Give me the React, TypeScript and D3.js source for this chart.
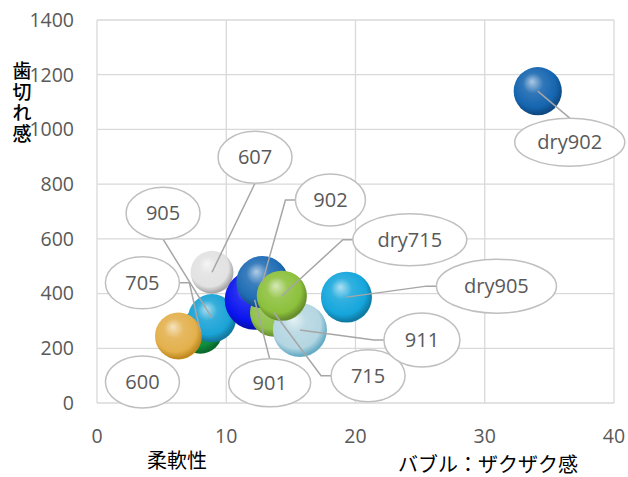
import { useEffect, useRef } from 'react'
import * as d3 from 'd3'

// series: each product is one bubble
const names = ['705', '607', '905', '600', '901', '715', '911', '902', 'dry715', 'dry905', 'dry902']
const softness = [8.0, 8.9, 8.9, 6.3, 12.2, 13.7, 15.7, 12.8, 14.3, 19.3, 34.1]
const crispness = [260, 478, 310, 245, 377, 330, 267, 442, 392, 387, 1140]
const crunch = [4.8, 4.6, 5.8, 5.5, 9.0, 5.8, 7.3, 6.8, 6.3, 6.5, 5.8]

const xTicks = [0, 10, 20, 30, 40]
const yTicks = [0, 200, 400, 600, 800, 1000, 1200, 1400]

const colors = ['#0e8c3c', '#e2e2e2', '#1aa3d6', '#e3b04c', '#0a14ee', '#8fc14a', '#b4d6e2', '#1f6cb4', '#8cc03c', '#15a6dc', '#1565b0']

// label bubble offsets from the point (px) and leader style
const labelLayout: { dx: number; dy: number; rx: number; ry: number; lead: string }[] = [
  { dx: -58, dy: -49, rx: 37, ry: 26, lead: 'right' },
  { dx: 43, dy: -115, rx: 37, ry: 26, lead: 'bottom' },
  { dx: -49, dy: -105, rx: 37, ry: 26, lead: 'bottom' },
  { dx: -36, dy: 46, rx: 37, ry: 26, lead: 'none' },
  { dx: 15, dy: 83, rx: 41, ry: 24, lead: 'top' },
  { dx: 94, dy: 63, rx: 37, ry: 26, lead: 'left' },
  { dx: 122, dy: 10, rx: 38, ry: 27, lead: 'left' },
  { dx: 68, dy: -82, rx: 35, ry: 26, lead: 'left' },
  { dx: 128, dy: -56, rx: 57, ry: 26, lead: 'left' },
  { dx: 150, dy: -11, rx: 60, ry: 27, lead: 'left' },
  { dx: 32, dy: 51, rx: 55, ry: 24, lead: 'top' },
]

export default function App() {
  const svgRef = useRef<SVGSVGElement>(null)

  useEffect(() => {
    const svg = svgRef.current
    if (!svg) return
    d3.select(svg).selectAll('*').remove()

    const W = 628, H = 477
    const root = d3.select(svg).attr('width', W).attr('height', H)
    const numFont = "'Open Sans', 'Noto Sans', sans-serif"
    const cjkFont = "'Noto Sans CJK JP', sans-serif"

    const x = d3.scaleLinear().domain([0, 40]).range([97, 614])
    const y = d3.scaleLinear().domain([0, 1400]).range([403, 20])
    const r = d3.scaleSqrt().domain([0, 9]).range([0, 30])

    const defs = root.append('defs')
    colors.forEach((c, i) => {
      const base = d3.hsl(c)
      const g = defs.append('radialGradient').attr('id', `ball${i}`)
        .attr('cx', '0.45').attr('cy', '0.42').attr('r', '0.6')
        .attr('fx', '0.38').attr('fy', '0.3')
      g.append('stop').attr('offset', '0%').attr('stop-color', d3.interpolateRgb(c, '#fff')(0.65))
      g.append('stop').attr('offset', '35%').attr('stop-color', d3.interpolateRgb(c, '#fff')(0.12))
      g.append('stop').attr('offset', '75%').attr('stop-color', c)
      g.append('stop').attr('offset', '95%').attr('stop-color', base.darker(0.9).formatHex())
      g.append('stop').attr('offset', '100%').attr('stop-color', base.darker(0.6).formatHex())
    })

    // grid
    const grid = root.append('g').attr('stroke', '#d9d9d9').attr('stroke-width', 1.3)
    yTicks.forEach(t => {
      grid.append('line').attr('x1', x(0)).attr('x2', x(40)).attr('y1', y(t)).attr('y2', y(t))
    })
    xTicks.forEach(t => {
      grid.append('line').attr('x1', x(t)).attr('x2', x(t)).attr('y1', y(0)).attr('y2', y(1400))
    })

    // tick labels
    root.append('g').selectAll('text').data(yTicks).join('text')
      .attr('x', 74).attr('y', d => y(d)).attr('dy', '0.35em')
      .attr('text-anchor', 'end').attr('font-family', numFont).attr('font-size', 19.5)
      .attr('fill', '#595959').text(d => d)
    root.append('g').selectAll('text').data(xTicks).join('text')
      .attr('x', d => x(d)).attr('y', 436).attr('dy', '0.35em')
      .attr('text-anchor', 'middle').attr('font-family', numFont).attr('font-size', 19.5)
      .attr('fill', '#595959').text(d => d)

    // bubbles
    const idx = d3.range(names.length)
    root.append('g').selectAll('circle').data(idx).join('circle')
      .attr('cx', i => x(softness[i])).attr('cy', i => y(crispness[i]))
      .attr('r', i => r(crunch[i]))
      .attr('fill', i => `url(#ball${i})`)

    // leader lines
    const leaders = root.append('g').attr('stroke', '#a6a6a6').attr('stroke-width', 1.5).attr('fill', 'none')
    idx.forEach(i => {
      const L = labelLayout[i]
      if (L.lead === 'none') return
      const px = x(softness[i]), py = y(crispness[i])
      const ex = px + L.dx, ey = py + L.dy
      let pts: [number, number][] = []
      if (L.lead === 'left') pts = [[px, py], [ex - L.rx - 10, ey], [ex - L.rx, ey]]
      else if (L.lead === 'right') pts = [[px, py], [ex + L.rx + 10, ey], [ex + L.rx, ey]]
      else if (L.lead === 'bottom') pts = [[px, py], [ex, ey + L.ry]]
      else pts = [[px, py], [ex, ey - L.ry]]
      leaders.append('path').attr('d', d3.line()(pts))
    })

    // data labels
    const lab = root.append('g')
    idx.forEach(i => {
      const L = labelLayout[i]
      const ex = x(softness[i]) + L.dx, ey = y(crispness[i]) + L.dy
      lab.append('ellipse').attr('cx', ex).attr('cy', ey).attr('rx', L.rx).attr('ry', L.ry)
        .attr('fill', '#fff').attr('stroke', '#bfbfbf').attr('stroke-width', 1.5)
      lab.append('text').attr('x', ex).attr('y', ey).attr('dy', '0.35em')
        .attr('text-anchor', 'middle').attr('font-family', numFont).attr('font-size', 20)
        .attr('fill', '#595959').text(names[i])
    })

    // axis titles
    root.append('text').attr('x', 177).attr('y', 468).attr('text-anchor', 'middle')
      .attr('font-family', cjkFont).attr('font-size', 20).attr('fill', '#000').text('柔軟性')
    root.append('text').attr('x', 488).attr('y', 472).attr('text-anchor', 'middle')
      .attr('font-family', cjkFont).attr('font-size', 20).attr('fill', '#000').text('バブル：ザクザク感')
    const yt = root.append('text').attr('font-family', cjkFont).attr('font-size', 19)
      .attr('fill', '#000').attr('text-anchor', 'middle').attr('font-weight', 500)
    Array.from('歯切れ感').forEach((ch, k) => {
      yt.append('tspan').attr('x', 22).attr('y', 78 + k * 21).text(ch)
    })
  }, [])

  return <svg ref={svgRef} style={{ position: 'absolute', left: 0, top: 0 }} />
}
